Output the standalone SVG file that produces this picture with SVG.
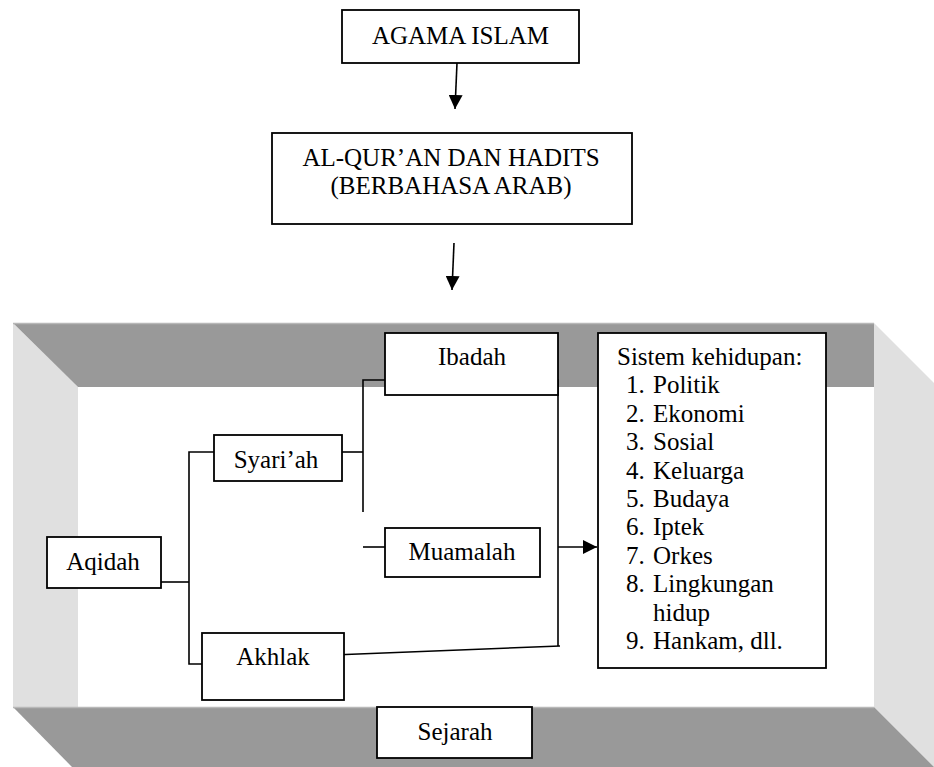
<svg xmlns="http://www.w3.org/2000/svg" width="934" height="767" viewBox="0 0 934 767">
<defs>
  <marker id="ah" markerUnits="userSpaceOnUse" markerWidth="14" markerHeight="14" refX="14" refY="7" orient="auto">
    <path d="M0,0 L14,7 L0,14 z" fill="#000"/>
  </marker>
</defs>

<g id="frame">
  <polygon fill="#e0e0e0" points="13,323 78,387 78,707 13,707"/>
  <polygon fill="#e0e0e0" points="874,323 934,383 934,767 874,707"/>
  <polygon fill="#999999" points="13,323 874,323 874,387 78,387"/>
  <polygon fill="#999999" points="13,707 874,707 934,767 72,767"/>
  <rect x="78" y="387" width="796" height="320" fill="#fff"/>
  <line x1="13" y1="323.5" x2="874" y2="323.5" stroke="#b8b8b8" stroke-width="1.5"/>
  <line x1="13" y1="707.5" x2="874" y2="707.5" stroke="#b8b8b8" stroke-width="1.5"/>
</g>

<g id="connectors" fill="none" stroke="#000" stroke-width="1.6">
  <line x1="457" y1="63" x2="455" y2="109" marker-end="url(#ah)"/>
  <line x1="454" y1="243" x2="452" y2="290" marker-end="url(#ah)"/>
  <polyline points="161,582 189,582"/>
  <polyline points="214,452 189,452 189,664 202,664"/>
  <polyline points="342,452 363,452"/>
  <polyline points="385,380 363,380 363,512"/>
  <polyline points="363,547 385,547"/>
  <polyline points="539,380 558,380 558,646"/>
  <line x1="333" y1="655" x2="560" y2="646"/>
  <line x1="558" y1="547" x2="597" y2="547" marker-end="url(#ah)"/>
</g>

<g font-family="Liberation Serif" font-size="25" fill="#000">
<g id="agama-islam">
  <rect fill="#fff" stroke="#000" stroke-width="1.8" x="342" y="10" width="237" height="53"/>
  <text text-anchor="middle" x="460.5" y="44">AGAMA ISLAM</text>
</g>

<g id="alquran-hadits">
  <rect fill="#fff" stroke="#000" stroke-width="1.8" x="272" y="133" width="360" height="91"/>
  <text text-anchor="middle" x="451" y="166">AL-QUR’AN DAN HADITS</text>
  <text text-anchor="middle" x="451" y="194">(BERBAHASA ARAB)</text>
</g>

<g id="ibadah">
  <rect fill="#fff" stroke="#000" stroke-width="1.8" x="385" y="333" width="173" height="62"/>
  <text text-anchor="middle" x="472" y="365">Ibadah</text>
</g>

<g id="syariah">
  <rect fill="#fff" stroke="#000" stroke-width="1.8" x="214" y="435" width="128" height="46"/>
  <text text-anchor="middle" x="276" y="468">Syari’ah</text>
</g>

<g id="muamalah">
  <rect fill="#fff" stroke="#000" stroke-width="1.8" x="385" y="528" width="155" height="49"/>
  <text text-anchor="middle" x="462" y="560">Muamalah</text>
</g>

<g id="aqidah">
  <rect fill="#fff" stroke="#000" stroke-width="1.8" x="47" y="537" width="114" height="51"/>
  <text text-anchor="middle" x="103" y="570">Aqidah</text>
</g>

<g id="akhlak">
  <rect fill="#fff" stroke="#000" stroke-width="1.8" x="202" y="633" width="142" height="67"/>
  <text text-anchor="middle" x="273" y="665">Akhlak</text>
</g>

<g id="sejarah">
  <rect fill="#fff" stroke="#000" stroke-width="1.8" x="377" y="707" width="155" height="51"/>
  <text text-anchor="middle" x="455" y="740">Sejarah</text>
</g>

<g id="sistem-kehidupan">
  <rect fill="#fff" stroke="#000" stroke-width="1.8" x="598" y="333" width="228" height="335"/>
  <text x="617" y="365">Sistem kehidupan:</text>
  <text x="626" y="393.4">1.</text>
  <text x="653" y="393.4">Politik</text>
  <text x="626" y="421.8">2.</text>
  <text x="653" y="421.8">Ekonomi</text>
  <text x="626" y="450.2">3.</text>
  <text x="653" y="450.2">Sosial</text>
  <text x="626" y="478.6">4.</text>
  <text x="653" y="478.6">Keluarga</text>
  <text x="626" y="507">5.</text>
  <text x="653" y="507">Budaya</text>
  <text x="626" y="535.4">6.</text>
  <text x="653" y="535.4">Iptek</text>
  <text x="626" y="563.8">7.</text>
  <text x="653" y="563.8">Orkes</text>
  <text x="626" y="592.2">8.</text>
  <text x="653" y="592.2">Lingkungan</text>
  <text x="653" y="620.6">hidup</text>
  <text x="626" y="649">9.</text>
  <text x="653" y="649">Hankam, dll.</text>
</g>
</g>
</svg>
